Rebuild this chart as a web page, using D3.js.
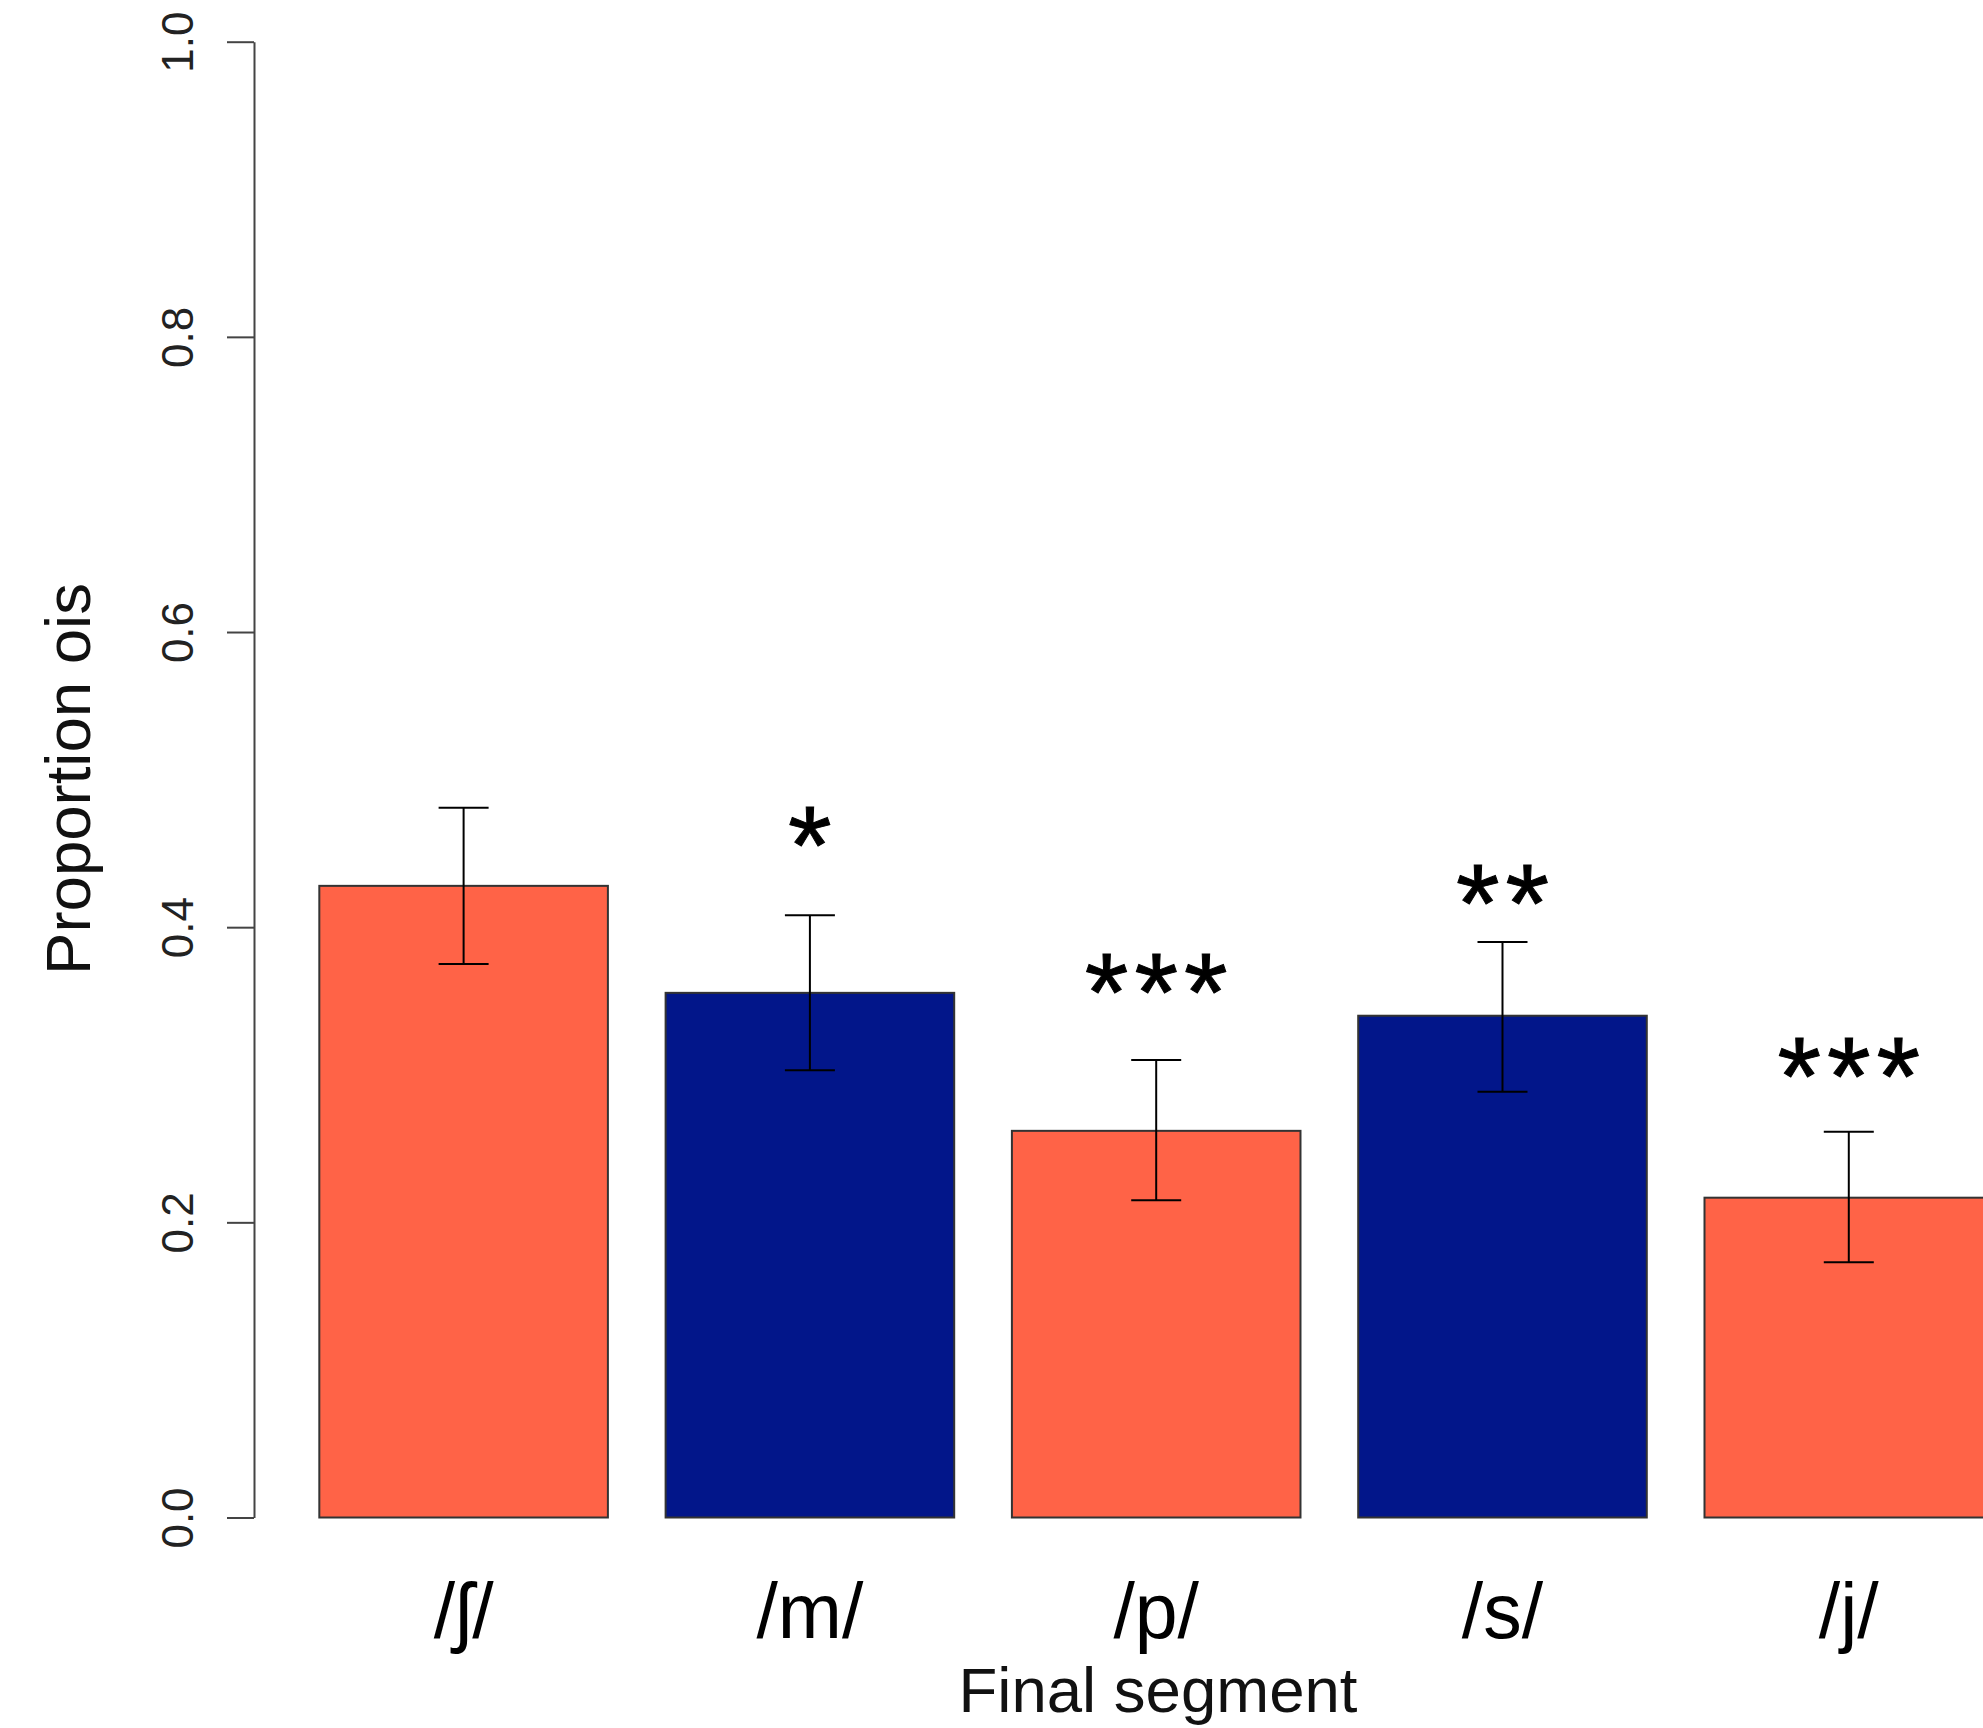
<!DOCTYPE html>
<html>
<head>
<meta charset="utf-8">
<script src="https://cdn.jsdelivr.net/npm/d3@7"></script>
<style>
  body { margin: 0; background: #fff; }
  svg { display: block; }
</style>
</head>
<body>
<div id="grafico"></div>
<script>
// datos
var categorias = ["/\u0283/", "/m/", "/p/", "/s/", "/j/"];
var proporcion = [0.428, 0.3555, 0.262, 0.340, 0.2167];
var errorSup = [0.481, 0.408, 0.310, 0.390, 0.2613];
var errorInf = [0.375, 0.303, 0.215, 0.2885, 0.173];
var estrellas = ["", "*", "***", "**", "***"];
var estrellasY = [null, 0.473, 0.373, 0.4335, 0.3165];
var colores = ["#FF6347", "#02168A", "#FF6347", "#02168A", "#FF6347"];
var ticksY = [0, 0.2, 0.4, 0.6, 0.8, 1.0];

var ancho = 1983, alto = 1728;
var fuente = "'Liberation Sans', Arial, Helvetica, sans-serif";

var svg = d3.select("#grafico")
    .append("svg")
    .attr("width", ancho)
    .attr("height", alto);

var y = d3.scaleLinear().domain([0, 1]).range([1517.5, 41.7]);
var x = d3.scaleBand()
    .domain(categorias)
    .range([261.6, 2050.8])
    .padding(1 / 6);

// barras
svg.append("g")
    .selectAll("rect")
    .data(categorias)
    .join("rect")
    .attr("x", d => x(d))
    .attr("y", (d, i) => y(proporcion[i]))
    .attr("width", x.bandwidth())
    .attr("height", (d, i) => y(0) - y(proporcion[i]))
    .attr("fill", (d, i) => colores[i])
    .attr("stroke", "#333")
    .attr("stroke-width", 2);

// barras de error
var cx = d => x(d) + x.bandwidth() / 2;
var err = svg.append("g")
    .attr("stroke", "#000")
    .attr("stroke-width", 2);
err.selectAll("line.v")
    .data(categorias)
    .join("line")
    .attr("class", "v")
    .attr("x1", cx).attr("x2", cx)
    .attr("y1", (d, i) => y(errorSup[i]))
    .attr("y2", (d, i) => y(errorInf[i]));
[errorSup, errorInf].forEach(function (serie) {
    err.append("g")
        .selectAll("line")
        .data(categorias)
        .join("line")
        .attr("x1", d => cx(d) - 25)
        .attr("x2", d => cx(d) + 25)
        .attr("y1", (d, i) => y(serie[i]))
        .attr("y2", (d, i) => y(serie[i]));
});

// asteriscos de significacion
var tamEstrella = 112;
svg.append("g")
    .selectAll("text")
    .data(categorias.filter((d, i) => estrellas[i] !== ""))
    .join("text")
    .attr("x", d => cx(d) + 3)
    .attr("y", d => y(estrellasY[categorias.indexOf(d)]) + 0.575 * tamEstrella)
    .attr("text-anchor", "middle")
    .style("font-family", fuente)
    .style("font-size", tamEstrella + "px")
    .style("letter-spacing", "6px")
    .style("fill", "#000")
    .style("stroke", "#000")
    .style("stroke-width", "1px")
    .text(d => estrellas[categorias.indexOf(d)]);

// eje y
var ejeY = svg.append("g")
    .attr("transform", "translate(254,0)")
    .call(d3.axisLeft(y)
        .tickValues(ticksY)
        .tickFormat(d3.format(".1f"))
        .tickSize(27)
        .tickSizeOuter(0));
ejeY.select(".domain").attr("stroke", "#444").attr("stroke-width", 2);
ejeY.selectAll(".tick line").attr("stroke", "#444").attr("stroke-width", 2);
ejeY.selectAll(".tick text")
    .attr("x", 0)
    .attr("y", -61)
    .attr("dy", null)
    .attr("transform", "rotate(-90)")
    .attr("text-anchor", "middle")
    .attr("fill", "#222")
    .style("font-family", fuente)
    .style("font-size", "44px");

// etiquetas del eje x
svg.append("g")
    .selectAll("text")
    .data(categorias)
    .join("text")
    .attr("x", cx)
    .attr("y", 1638)
    .attr("text-anchor", "middle")
    .style("font-family", fuente)
    .style("font-size", "77px")
    .style("fill", "#000")
    .text(d => d);

// titulos
svg.append("text")
    .attr("x", 1158)
    .attr("y", 1712)
    .attr("text-anchor", "middle")
    .style("font-family", fuente)
    .style("font-size", "63.5px")
    .style("fill", "#111")
    .text("Final segment");

svg.append("text")
    .attr("transform", "translate(90,779) rotate(-90)")
    .attr("text-anchor", "middle")
    .style("font-family", fuente)
    .style("font-size", "63.5px")
    .style("fill", "#111")
    .text("Proportion ois");
</script>
</body>
</html>
